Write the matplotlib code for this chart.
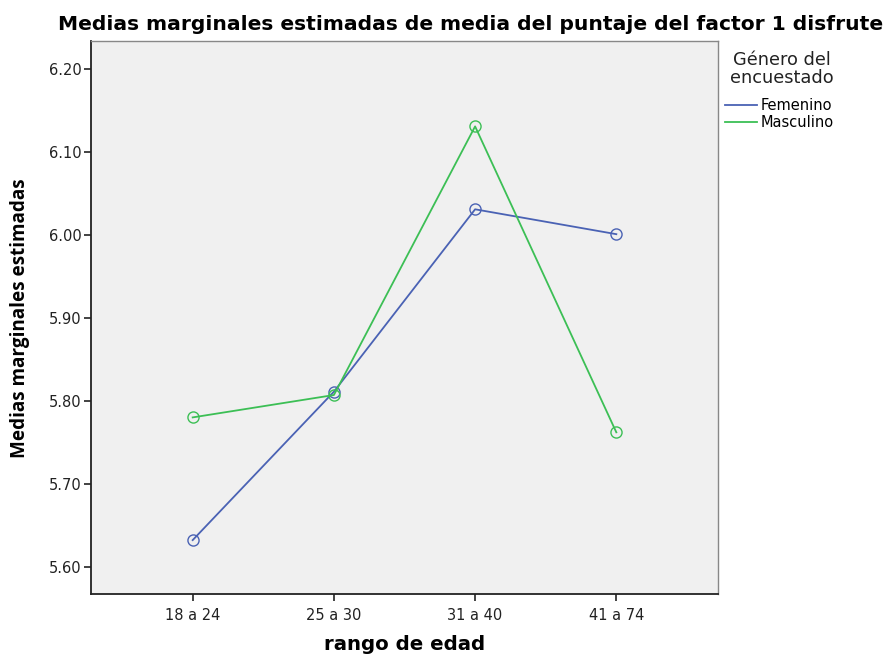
import matplotlib
matplotlib.use("Agg")
import matplotlib.pyplot as plt
from matplotlib.lines import Line2D

plt.rcParams['font.family'] = ['DejaVu Sans']

categories = ["18 a 24", "25 a 30", "31 a 40", "41 a 74"]
femenino = [5.632, 5.811, 6.031, 6.001]
masculino = [5.780, 5.807, 6.131, 5.762]
yticks = [5.60, 5.70, 5.80, 5.90, 6.00, 6.10, 6.20]
series_names = ["Femenino", "Masculino"]
colors = ['#4A62B4', '#3CBF55']

W, H = 896, 654
fig = plt.figure(figsize=(W/100, H/100), dpi=100)
fig.patch.set_facecolor('white')
ax = fig.add_axes([91/W, 1-594/H, (718-91)/W, (594-41)/H])
ax.set_facecolor('#F0F0F0')

x = list(range(len(categories)))
for vals, c, name in zip([femenino, masculino], colors, series_names):
    ax.plot(x, vals, color=c, lw=1.3, marker='o', ms=8,
            mfc='none', mec=c, mew=1.0, label=name)

ax.set_xlim(-0.72, 3.72)
ax.set_ylim(5.567, 6.234)
ax.set_xticks(x)
ax.set_xticklabels(categories, fontsize=10.5)
ax.set_yticks(yticks)
ax.set_yticklabels([f"{v:.2f}" for v in yticks], fontsize=10.5)
ax.tick_params(axis='both', direction='out', length=5, width=1.2, color='#222222', labelcolor='#222222')
ax.tick_params(axis='x', pad=5)
ax.tick_params(axis='y', pad=2)

for s in ['left', 'bottom']:
    ax.spines[s].set_color('#222222')
    ax.spines[s].set_linewidth(1.3)
for s in ['top', 'right']:
    ax.spines[s].set_color('#888888')
    ax.spines[s].set_linewidth(1.0)

fig.text(58/W, 1-25/H, "Medias marginales estimadas de media del puntaje del factor 1 disfrute",
         fontsize=14.6, fontweight='bold', ha='left', va='center')
fig.text(20/W, 1-318/H, "Medias marginales estimadas", rotation=90, fontsize=13.6,
         family=['Open Sans', 'DejaVu Sans'],
         fontweight='bold', ha='center', va='center')
fig.text(405/W, 1-645/H, "rango de edad", fontsize=14.2, fontweight='bold',
         ha='center', va='center')

fig.text(782/W, 1-69/H, "Género del\nencuestado", fontsize=12.8, ha='center', va='center',
         linespacing=0.95, color='#222222')
handles = [Line2D([], [], color=c, lw=1.3) for c in colors]
fig.legend(handles, series_names, loc='upper left', bbox_to_anchor=(725/W, 1-98/H),
           frameon=False, fontsize=10.5, handlelength=2.2, handletextpad=0.25,
           labelspacing=0.12, borderpad=0, borderaxespad=0)

fig.savefig("out.png", dpi=100)
